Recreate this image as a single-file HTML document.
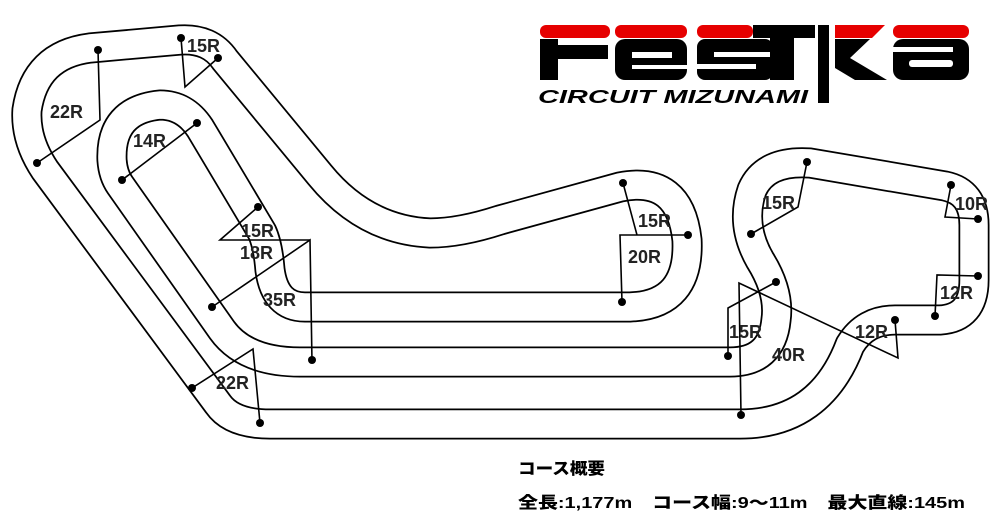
<!DOCTYPE html>
<html><head><meta charset="utf-8"><style>
html,body{margin:0;padding:0;background:#fff;width:1000px;height:530px;overflow:hidden}
svg{display:block}
.lbl{font-family:"Liberation Sans",sans-serif;font-size:18px;font-weight:bold;fill:#222}
.jp{font-family:"Liberation Sans","Noto Sans CJK JP",sans-serif;font-size:16px;font-weight:900;fill:#000}
</style></head><body>
<svg width="1000" height="530" viewBox="0 0 1000 530" xmlns="http://www.w3.org/2000/svg">
<defs>
<path id="road" d="M300 362 L730 362 Q772 362 776 320 Q780 292 760 260 Q740 225 752 190 Q765 160 810 163 L945 186 Q974 192 974 225 L974 280 Q974 318 940 320 L895 320 Q865 320 850 345 Q820 424 740 424 L270 424 Q232 424 218 404 L45 170 Q25 140 27 110 Q35 55 90 48 L180 40 Q210 38 225 60 L320 175 Q365 230 430 233 Q460 233 500 220 L620 187 Q680 175 687 240 Q690 305 630 307 L305 307 Q275 307 270 270 Q268 245 262 232 L200 128 Q185 105 160 105 Q110 110 112 160 Q113 175 120 185 L222 330 Q245 362 300 362 Z"/>
</defs>
<use href="#road" fill="none" stroke="#000" stroke-width="31" stroke-linejoin="round"/>
<use href="#road" fill="none" stroke="#fff" stroke-width="27.5" stroke-linejoin="round"/>

<g stroke="#000" stroke-width="1.6" fill="none">
<polyline points="98,50 100,120 37,163"/>
<polyline points="181,38 185,87 218,58"/>
<line x1="197" y1="123" x2="122" y2="180"/>
<polyline points="258,207 220,240 310,240"/>
<polyline points="212,307 310,240 312,362"/>
<polyline points="192,388 253,349 260,423"/>
<polyline points="623,183 637,235"/>
<polyline points="688,235 620,235 622,302"/>
<polyline points="807,162 798,207 751,234"/>
<polyline points="951,185 945,217 978,219"/>
<polyline points="978,276 937,275 935,316"/>
<polyline points="741,415 739,283 898,358 895,320"/>
<polyline points="776,282 728,308 728,356"/>
</g>
<g fill="#000">
<circle cx="98" cy="50" r="4"/><circle cx="37" cy="163" r="4"/>
<circle cx="181" cy="38" r="4"/><circle cx="218" cy="58" r="4"/>
<circle cx="197" cy="123" r="4"/><circle cx="122" cy="180" r="4"/>
<circle cx="258" cy="207" r="4"/><circle cx="212" cy="307" r="4"/>
<circle cx="312" cy="360" r="4"/><circle cx="192" cy="388" r="4"/>
<circle cx="260" cy="423" r="4"/><circle cx="623" cy="183" r="4"/>
<circle cx="688" cy="235" r="4"/><circle cx="622" cy="302" r="4"/>
<circle cx="807" cy="162" r="4"/><circle cx="751" cy="234" r="4"/>
<circle cx="951" cy="185" r="4"/><circle cx="978" cy="219" r="4"/>
<circle cx="978" cy="276" r="4"/><circle cx="935" cy="316" r="4"/>
<circle cx="741" cy="415" r="4"/><circle cx="895" cy="320" r="4"/>
<circle cx="776" cy="282" r="4"/><circle cx="728" cy="356" r="4"/>
</g>
<g class="lbl">
<text x="50" y="118">22R</text>
<text x="187" y="52">15R</text>
<text x="133" y="147">14R</text>
<text x="241" y="237">15R</text>
<text x="240" y="259">18R</text>
<text x="263" y="306">35R</text>
<text x="216" y="389">22R</text>
<text x="638" y="227">15R</text>
<text x="628" y="263">20R</text>
<text x="762" y="209">15R</text>
<text x="955" y="210">10R</text>
<text x="940" y="299">12R</text>
<text x="729" y="338">15R</text>
<text x="772" y="361">40R</text>
<text x="855" y="338">12R</text>
</g>

<!-- logo -->
<g>
<rect x="540" y="25" width="70" height="13" rx="6" fill="#e60000"/>
<rect x="540" y="39" width="18" height="41" fill="#000"/>
<rect x="540" y="45" width="68" height="14" fill="#000"/>
<rect x="615" y="25" width="72" height="13" rx="6" fill="#e60000"/>
<rect x="615" y="39" width="72" height="41" rx="10" fill="#000"/>
<rect x="632" y="52" width="40" height="6" fill="#fff"/>
<rect x="632" y="65" width="55" height="4" fill="#fff"/>
<rect x="697" y="25" width="56" height="13" rx="6" fill="#e60000"/>
<rect x="697" y="39" width="76" height="41" rx="8" fill="#000"/>
<rect x="714" y="52" width="59" height="5" fill="#fff"/>
<rect x="697" y="64" width="59" height="5" fill="#fff"/>
<rect x="753" y="25" width="62" height="13" fill="#000"/>
<rect x="770" y="37" width="24" height="43" fill="#000"/>
<rect x="818" y="25" width="11" height="78" fill="#000"/>
<polygon points="835,25 885,25 872,38 835,38" fill="#e60000"/>
<polygon points="835,39 870,39 850,58 887,80 855,80 835,68" fill="#000"/>
<rect x="893" y="25" width="76" height="13" rx="6" fill="#e60000"/>
<rect x="893" y="39" width="76" height="41" rx="10" fill="#000"/>
<rect x="909" y="60" width="44" height="7" rx="3" fill="#fff"/>
<rect x="893" y="47" width="60" height="5" fill="#fff"/>
<text x="538" y="103" font-family="Liberation Sans,sans-serif" font-weight="bold" font-style="italic" font-size="18" textLength="270" lengthAdjust="spacingAndGlyphs" fill="#000">CIRCUIT MIZUNAMI</text>
</g>

<text class="jp" x="518" y="474" textLength="87" lengthAdjust="spacingAndGlyphs">コース概要</text>
<text class="jp" x="518" y="508" textLength="447" lengthAdjust="spacingAndGlyphs">全長:1,177m　コース幅:9～11m　最大直線:145m</text>
</svg>
</body></html>
